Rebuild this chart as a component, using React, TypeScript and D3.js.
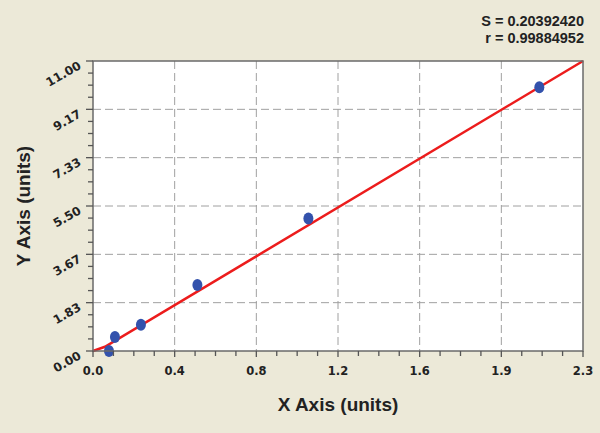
import React from "react";
import * as d3 from "d3";

const pointX = [0.075, 0.103, 0.225, 0.49, 1.011, 2.095];
const pointY = [0.0, 0.53, 1.0, 2.5, 5.03, 10.0];
const fitX = [0, 0.056, 2.3];
const fitY = [0, 0.16, 11];
const xTickLabels = ["0.0", "0.4", "0.8", "1.2", "1.6", "1.9", "2.3"];
const yTickLabels = ["0.00", "1.83", "3.67", "5.50", "7.33", "9.17", "11.00"];
const statLines = ["S = 0.20392420", "r = 0.99884952"];
const xTitle = "X Axis (units)";
const yTitle = "Y Axis (units)";

const W = 600;
const H = 433;
const L = 93, R = 583, T = 61, B = 351;

export default function App() {
  const xMax = 2.3, yMax = 11;
  const x = d3.scaleLinear().domain([0, xMax]).range([L, R]);
  const y = d3.scaleLinear().domain([0, yMax]).range([B, T]);
  const nMajor = 6;
  const majorX = d3.range(nMajor + 1).map((i) => (i * xMax) / nMajor);
  const majorY = d3.range(nMajor + 1).map((i) => (i * yMax) / nMajor);
  const minorX = d3.range(nMajor * 4 + 1).map((i) => (i * xMax) / (nMajor * 4));
  const minorY = d3.range(nMajor * 4 + 1).map((i) => (i * yMax) / (nMajor * 4));
  const line = d3
    .line<number>()
    .x((_, i) => x(fitX[i]))
    .y((_, i) => y(fitY[i]))
    .curve(d3.curveLinear);
  const fontTick = "'DejaVu Sans', Verdana, sans-serif";
  const fontTitle = "'Liberation Sans', Arial, sans-serif";
  return (
    <svg
      width={W}
      height={H}
      style={{ position: "absolute", left: 0, top: 0, display: "block" }}
    >
      <rect x={0} y={0} width={W} height={H} fill="#ECE9D8" />
      <rect x={L} y={T} width={R - L} height={B - T} fill="#ffffff" />
      {majorX.slice(1, -1).map((v, i) => (
        <line key={"gx" + i} x1={x(v)} x2={x(v)} y1={T} y2={B} stroke="#a0a0a0" strokeWidth={1} strokeDasharray="8,4" />
      ))}
      {majorY.slice(1, -1).map((v, i) => (
        <line key={"gy" + i} x1={L} x2={R} y1={y(v)} y2={y(v)} stroke="#a0a0a0" strokeWidth={1} strokeDasharray="8,4" />
      ))}
      <path d={line(fitX) || ""} fill="none" stroke="#ec1c1c" strokeWidth={2.5} />
      {pointX.map((v, i) => (
        <ellipse key={"p" + i} cx={x(v)} cy={y(pointY[i])} rx={5} ry={6} fill="#3352ac" />
      ))}
      <rect x={L} y={T} width={R - L} height={B - T} fill="none" stroke="#6a6a6a" strokeWidth={1.5} />
      {minorX.map((v, i) => (
        <line key={"tx" + i} x1={x(v)} x2={x(v)} y1={B} y2={B + (i % 4 === 0 ? 6 : 5)} stroke="#555" strokeWidth={1.3} />
      ))}
      {minorY.map((v, i) => (
        <line key={"ty" + i} x1={L} x2={L - (i % 4 === 0 ? 7 : 5)} y1={y(v)} y2={y(v)} stroke="#555" strokeWidth={1.3} />
      ))}
      {majorX.map((v, i) => (
        <text key={"lx" + i} x={x(v)} y={B + 24} textAnchor="middle" fontFamily={fontTick} fontWeight="bold" fontSize={11.5} fill="#222">
          {xTickLabels[i]}
        </text>
      ))}
      {majorY.map((v, i) => (
        <text
          key={"ly" + i}
          transform={`translate(${L - 11},${y(v) + 7}) rotate(-30)`}
          textAnchor="end"
          fontFamily={fontTick}
          fontWeight="bold"
          fontSize={12}
          fill="#222"
        >
          {yTickLabels[i]}
        </text>
      ))}
      <text x={(L + R) / 2} y={411} textAnchor="middle" fontFamily={fontTitle} fontWeight="bold" fontSize={19} fill="#222">
        {xTitle}
      </text>
      <text
        transform={`translate(30,${(T + B) / 2}) rotate(-90)`}
        textAnchor="middle"
        fontFamily={fontTitle}
        fontWeight="bold"
        fontSize={19}
        fill="#222"
      >
        {yTitle}
      </text>
      {statLines.map((s, i) => (
        <text key={"s" + i} x={584} y={25.5 + i * 17} textAnchor="end" fontFamily={fontTitle} fontWeight="bold" fontSize={14.5} fill="#222">
          {s}
        </text>
      ))}
    </svg>
  );
}
